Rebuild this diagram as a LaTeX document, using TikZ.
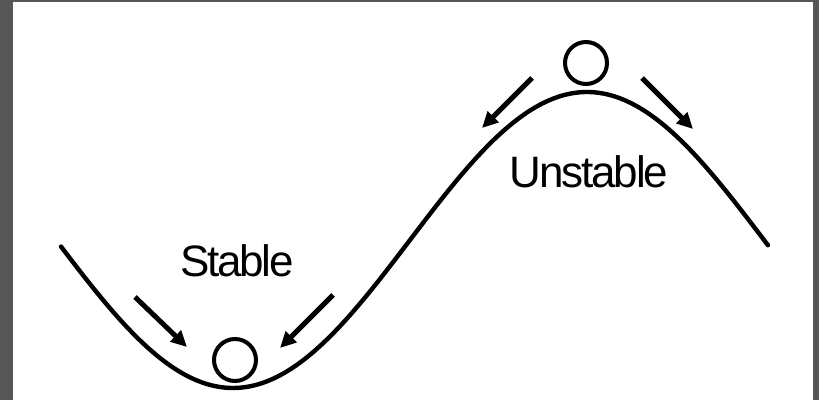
\documentclass[tikz,border=0pt]{standalone}
\usepackage{fontspec}
\newfontfamily\labelfont[LetterSpace=-5]{Liberation Sans}
\usepackage{tikz}
\usetikzlibrary{arrows.meta}
\definecolor{frame}{HTML}{565656}
\tikzset{
  slope/.style={line width=2.2pt,line join=round,line cap=round},
  ball/.style={circle,draw,line width=2pt,minimum size=21pt,inner sep=0pt},
  push/.style={line width=2.5pt,-{Triangle[length=8pt,width=7.5pt]}},
  tag/.style={font=\labelfont\fontsize{22}{24}\selectfont,anchor=base,inner sep=0pt}
}

\begin{document}
\begin{tikzpicture}[x=0.5pt,y=-0.5pt]
\fill[frame] (0,0) rectangle (819,400);
\fill[white] (13,2) rectangle (813,400);
\useasboundingbox (0,0) rectangle (819,400);
\draw[slope] plot[domain=61:768,samples=120,smooth] (\x,{240+148*cos((\x-233)/354*180)});
\node[ball] (low) at (235,360) {};
\node[ball] (high) at (586,63) {};
\foreach \i/\s/\t in {1/{135,297}/{187,347},2/{333,295}/{280,348},3/{532,78}/{482,128},4/{642,78}/{693,129}}{
  \coordinate (s\i) at (\s); \coordinate (t\i) at (\t);
  \draw[push] (s\i)--(t\i);}
\node[tag] (stable) at (237,277) {Stable};
\node[tag] (unstable) at (589,188) {Unstable};
\end{tikzpicture}
\end{document}
